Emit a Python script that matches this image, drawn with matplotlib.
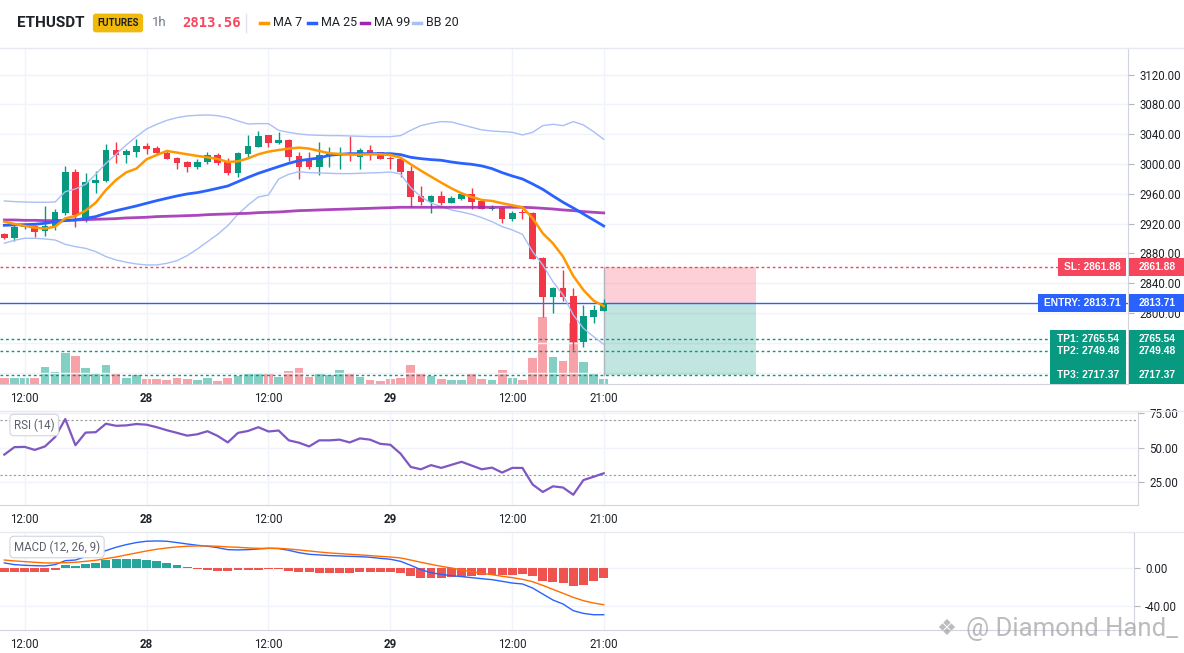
import numpy as np
import matplotlib
matplotlib.use('Agg')
import matplotlib.pyplot as plt
from matplotlib.patches import Rectangle
from matplotlib.lines import Line2D
from matplotlib import transforms

plt.rcParams['font.family'] = ['Roboto', 'DejaVu Sans']

# ---- data (1h ETHUSDT candles) ----
opens = [2906.2, 2900.8, 2915.1, 2916.9, 2909.8, 2916.9, 2933.9, 2989.4, 2925.0, 2975.1,
         2976.9, 3018.9, 3012.7, 3016.3, 3024.3, 3021.6, 3015.4, 3008.2, 3002.8, 2996.6,
         3002.8, 3012.7, 3004.6, 2988.5, 3013.6, 3023.4, 3038.6, 3028.8, 3032.4, 3010.9,
         3005.5, 2996.6, 3010.9, 3012.7, 3014.5, 3009.1, 3018.9, 3016.3, 3007.7, 3007.3,
         2990.8, 2957.2, 2949.6, 2957.2, 2948.2, 2953.6, 2959.9, 2950.9, 2939.7, 2941.5,
         2926.8, 2935.7, 2933.9, 2874.0, 2822.1, 2833.7, 2823.0, 2761.2, 2795.2, 2803.3]
closes = [2900.8, 2916.0, 2916.9, 2908.9, 2916.9, 2935.7, 2989.4, 2931.7, 2976.0, 2978.7,
          3018.9, 3012.7, 3017.6, 3024.3, 3020.7, 3015.4, 3007.3, 3001.9, 2996.6, 3002.8,
          3011.8, 3001.9, 2988.5, 3014.9, 3024.3, 3037.7, 3028.8, 3032.4, 3010.0, 2996.6,
          2996.6, 3012.7, 3014.5, 3014.5, 3011.8, 3018.9, 3014.5, 3007.3, 3006.4, 2989.9,
          2956.3, 2949.6, 2957.2, 2948.2, 2954.5, 2959.9, 2949.1, 2940.2, 2941.1, 2926.8,
          2934.8, 2934.8, 2873.1, 2822.1, 2833.7, 2822.1, 2761.7, 2796.1, 2804.2, 2813.56]
highs = [2908.0, 2917.8, 2920.5, 2918.7, 2943.8, 2939.3, 2997.5, 2993.0, 2988.5, 2990.8,
         3027.0, 3029.7, 3020.7, 3033.2, 3027.9, 3024.3, 3018.0, 3010.0, 3003.7, 3006.4,
         3016.3, 3014.5, 3008.2, 3016.3, 3038.6, 3044.9, 3039.5, 3043.1, 3033.2, 3016.3,
         3016.3, 3029.7, 3023.4, 3022.5, 3037.7, 3021.6, 3026.1, 3016.3, 3010.9, 3009.1,
         2997.5, 2970.6, 2958.1, 2964.4, 2957.2, 2962.6, 2967.9, 2951.8, 2945.6, 2942.9,
         2937.5, 2939.3, 2935.2, 2875.7, 2835.5, 2857.8, 2833.7, 2810.9, 2810.9, 2819.4]
lows = [2899.9, 2897.2, 2913.4, 2902.6, 2903.5, 2911.6, 2931.2, 2915.1, 2922.7, 2961.7,
        2976.0, 3001.9, 3001.9, 3009.1, 3013.1, 3013.6, 3006.4, 2993.9, 2989.9, 2993.9,
        3000.1, 2998.4, 2985.8, 2983.1, 3010.0, 3022.5, 3022.5, 3027.0, 3003.7, 2980.5,
        2993.0, 2985.8, 2996.6, 2993.9, 3004.6, 2993.9, 3005.5, 3006.4, 2993.9, 2983.1,
        2942.9, 2945.1, 2934.8, 2945.1, 2947.4, 2951.8, 2940.2, 2939.3, 2938.4, 2920.5,
        2923.2, 2926.8, 2872.0, 2794.3, 2799.7, 2816.7, 2750.5, 2754.9, 2787.2, 2802.4]
volume = [6.0, 6.0, 6.0, 6.0, 17.0, 12.0, 31.0, 28.0, 16.0, 10.0,
          19.0, 10.0, 6.0, 9.0, 5.0, 5.0, 4.0, 6.0, 5.0, 4.0,
          6.0, 3.0, 6.0, 8.0, 11.0, 11.0, 10.0, 7.3, 13.0, 16.0,
          7.3, 11.0, 9.0, 14.0, 10.0, 7.3, 4.0, 3.0, 5.0, 6.0,
          19.0, 11.0, 8.0, 5.0, 4.0, 4.0, 10.0, 5.0, 4.0, 14.0,
          6.0, 4.0, 26.0, 67.0, 27.0, 23.0, 61.0, 22.0, 11.0, 5.3]

ma7 = [2922.7, 2919.6, 2916.9, 2914.7, 2913.4, 2916.0, 2927.2, 2930.3, 2937.5, 2948.2,
       2965.2, 2978.7, 2988.9, 2993.9, 3006.4, 3012.2, 3017.6, 3015.4, 3013.1, 3010.9,
       3009.1, 3006.9, 3002.8, 3003.7, 3007.7, 3013.1, 3016.7, 3018.9, 3020.7, 3022.1,
       3020.7, 3017.6, 3014.5, 3013.6, 3012.7, 3012.7, 3013.1, 3013.1, 3012.2, 3008.6,
       2999.7, 2991.2, 2983.1, 2975.1, 2967.5, 2960.8, 2955.8, 2951.8, 2950.5, 2947.4,
       2944.7, 2942.0, 2927.2, 2907.1, 2893.6, 2875.7, 2849.8, 2831.0, 2816.7, 2809.5]
ma25 = [2917.8, 2918.3, 2918.7, 2919.2, 2920.5, 2922.7, 2924.1, 2925.0, 2927.2, 2929.5,
        2933.9, 2937.5, 2940.6, 2943.8, 2947.4, 2950.9, 2954.1, 2957.2, 2959.9, 2961.7,
        2964.4, 2967.5, 2970.6, 2976.4, 2982.2, 2987.6, 2992.1, 2996.6, 3001.0, 3004.6,
        3006.4, 3008.2, 3011.8, 3013.1, 3014.0, 3014.0, 3014.0, 3014.0, 3014.0, 3012.7,
        3009.1, 3007.3, 3006.0, 3005.1, 3002.8, 3001.0, 2999.7, 2997.5, 2993.9, 2988.5,
        2984.0, 2980.0, 2973.3, 2966.1, 2957.2, 2948.7, 2941.1, 2933.0, 2925.0, 2916.9]
ma99 = [2925.0, 2925.0, 2924.5, 2924.5, 2924.1, 2924.1, 2924.5, 2925.0, 2925.4, 2925.9,
        2926.3, 2926.8, 2927.7, 2928.1, 2928.6, 2929.5, 2929.9, 2930.3, 2930.8, 2931.2,
        2932.1, 2932.6, 2933.0, 2933.5, 2933.9, 2934.8, 2935.3, 2935.7, 2936.6, 2937.5,
        2937.9, 2938.4, 2938.9, 2939.3, 2939.7, 2940.2, 2940.6, 2941.1, 2941.5, 2942.0,
        2942.0, 2942.0, 2942.0, 2942.0, 2942.0, 2942.0, 2942.0, 2942.0, 2942.0, 2942.0,
        2942.0, 2942.0, 2941.5, 2940.6, 2939.7, 2938.4, 2937.5, 2936.2, 2935.3, 2934.4]
bb_upper = [2950.5, 2949.6, 2949.1, 2948.7, 2948.7, 2949.1, 2963.0, 2966.6, 2972.8, 2986.3,
            3001.0, 3013.1, 3025.6, 3036.8, 3047.1, 3053.4, 3058.7, 3062.3, 3064.6, 3065.5,
            3065.9, 3065.0, 3062.3, 3057.9, 3053.8, 3054.3, 3054.3, 3045.3, 3042.6, 3040.4,
            3039.1, 3038.6, 3038.2, 3038.2, 3037.7, 3037.3, 3036.8, 3036.8, 3036.8, 3038.2,
            3045.3, 3051.6, 3054.7, 3057.0, 3056.5, 3052.9, 3049.4, 3045.8, 3044.4, 3043.5,
            3042.6, 3039.1, 3042.6, 3051.6, 3053.4, 3051.6, 3057.0, 3052.5, 3043.5, 3033.2]
bb_lower = [2893.7, 2897.7, 2900.4, 2900.4, 2899.5, 2898.1, 2892.3, 2889.2, 2886.9, 2882.5,
            2875.8, 2871.3, 2868.2, 2865.9, 2864.6, 2864.6, 2866.8, 2870.4, 2877.1, 2886.0,
            2895.9, 2905.7, 2917.4, 2932.6, 2945.1, 2955.8, 2958.5, 2980.0, 2986.3, 2989.8,
            2988.5, 2988.1, 2987.6, 2987.2, 2987.2, 2987.6, 2988.1, 2988.5, 2989.4, 2986.7,
            2968.4, 2956.3, 2947.8, 2942.9, 2938.4, 2935.7, 2932.6, 2928.1, 2922.7, 2916.0,
            2911.6, 2905.7, 2882.5, 2864.6, 2842.2, 2824.3, 2797.5, 2779.6, 2768.4, 2758.1]

rsi = [45.0, 50.4, 50.6, 48.4, 50.9, 57.7, 70.7, 51.8, 60.9, 61.2,
       67.3, 65.8, 66.1, 67.1, 66.6, 64.8, 62.6, 60.7, 58.7, 59.7,
       61.9, 58.5, 53.8, 60.7, 62.1, 64.8, 61.7, 62.4, 55.3, 53.6,
       50.9, 55.3, 55.3, 55.8, 53.8, 56.7, 55.8, 52.8, 52.1, 45.7,
       36.1, 34.4, 37.4, 35.4, 37.6, 39.8, 37.1, 34.4, 35.6, 32.0,
       35.4, 35.4, 23.4, 18.0, 22.1, 21.2, 16.0, 26.6, 29.0, 31.5]

macd = [5.7, 3.9, 3.2, 2.8, 2.5, 3.9, 8.1, 8.8, 12.4, 15.2,
        18.8, 22.3, 25.1, 27.3, 28.7, 29.0, 28.7, 27.3, 25.8, 24.4,
        23.4, 21.9, 19.8, 19.5, 19.8, 20.5, 21.2, 20.9, 19.1, 16.6,
        14.9, 14.2, 13.5, 13.1, 12.7, 12.4, 11.7, 10.6, 9.6, 7.4,
        3.2, -1.4, -4.6, -6.4, -7.8, -8.8, -9.9, -11.0, -12.0, -13.8,
        -15.6, -16.6, -20.9, -27.3, -33.6, -37.9, -44.9, -47.8, -49.2, -49.2]
signal = [8.8, 7.8, 7.1, 6.4, 5.7, 5.7, 6.0, 6.4, 7.4, 8.5,
          10.3, 12.0, 14.2, 16.3, 18.4, 20.2, 21.6, 22.7, 23.4, 23.7,
          23.7, 23.4, 22.7, 22.3, 21.6, 21.2, 21.2, 21.2, 20.5, 19.5,
          18.4, 17.3, 16.3, 15.6, 14.9, 14.2, 13.5, 12.7, 12.0, 11.0,
          8.8, 6.4, 4.2, 2.1, 0.4, -1.8, -3.5, -5.3, -6.7, -8.5,
          -9.9, -11.7, -14.2, -18.1, -22.3, -26.5, -30.8, -34.3, -36.8, -38.6]
hist = [-4.2, -4.2, -3.5, -3.5, -3.5, -1.4, 3.5, 2.1, 4.6, 5.7,
        9.2, 9.6, 9.9, 9.9, 8.8, 7.8, 5.7, 3.5, 1.4, -0.4,
        -1.4, -2.5, -2.5, -2.1, -2.1, -1.4, -0.7, -0.7, -2.5, -3.5,
        -4.2, -4.6, -4.6, -4.6, -4.6, -4.2, -4.2, -4.2, -3.5, -5.0,
        -7.8, -9.9, -9.9, -9.9, -9.6, -9.2, -8.1, -7.1, -7.1, -7.1,
        -7.1, -5.7, -7.8, -13.5, -14.2, -15.2, -18.4, -17.3, -13.5, -10.6]

tick_pos = [2, 14, 26, 38, 50, 59]
tick_lab = ['12:00', '28', '12:00', '29', '12:00', '21:00']
price_ticks = [2720, 2760, 2800, 2840, 2880, 2920, 2960, 3000, 3040, 3080, 3120]
hidden_ticks = [2720, 2760]   # sit under the TP tags

last_price = 2813.56
sl = 2861.88
entry = 2813.71
tps = [2765.54, 2749.48, 2717.37]
zone_bars = 15

GREEN = '#089981'
RED = '#f23645'
GRID = '#f0f3fa'
BORDER = '#d1d4dc'
TXT = '#1e2329'

# ---- layout helpers (pixels of a 1184x653 canvas) ----
W, H = 1184, 653
BAR_PX = 10.16
X0_PX = 4.3


def box(x0, y0, x1, y1):
    return [x0 / W, 1 - y1 / H, (x1 - x0) / W, (y1 - y0) / H]


def xlim_for(width_px):
    return (-X0_PX / BAR_PX, (width_px - X0_PX) / BAR_PX)


def style_axis(a, width_px):
    a.set_xlim(*xlim_for(width_px))
    a.yaxis.tick_right()
    a.tick_params(axis='y', length=4, color='#b2b5be', labelsize=8.3, labelcolor=TXT, pad=4)
    a.tick_params(axis='x', length=0, labelsize=8.3, labelcolor=TXT, pad=6)
    a.set_xticks(tick_pos)
    a.set_xticklabels(tick_lab)
    for t in a.get_xticklabels():
        if ':' not in t.get_text():
            t.set_fontweight('bold')
    a.grid(True, color=GRID, lw=1)
    a.set_axisbelow(True)
    for s in ['top', 'left']:
        a.spines[s].set_visible(False)
    for s in ['right', 'bottom']:
        a.spines[s].set_color(BORDER)


fig = plt.figure(figsize=(11.84, 6.53), dpi=100)
fig.patch.set_facecolor('white')

idx = np.arange(len(closes))
o = np.array(opens)
c = np.array(closes)
up = c >= o
ccol = np.where(up, GREEN, RED)

# ---- main price panel ----
main_box = box(0, 48, 1128, 384)
ax_vol = fig.add_axes(main_box)
ax_vol.set_axis_off()
ax_vol.set_xlim(*xlim_for(1128))
ax_vol.bar(idx, volume, width=0.86, color=np.where(up, '#84cfc3', '#f7a1a9'), zorder=1)
ax_vol.set_ylim(0, max(volume) * 336 / 67)

ax = fig.add_axes(main_box, facecolor='none')
style_axis(ax, 1128)
ax.set_ylim(2704.8, 3155.8)
ax.set_yticks(price_ticks)
ax.set_yticklabels(['' if p in hidden_ticks else '%.2f' % p for p in price_ticks])

ax.vlines(idx, lows, highs, colors=ccol, lw=1, zorder=3)
ax.bar(idx, np.maximum(np.abs(c - o), 0.8), bottom=np.minimum(o, c), width=0.66,
       color=ccol, zorder=4)

ax.plot(idx, bb_upper, color='#a9bff5', lw=1, zorder=5)
ax.plot(idx, bb_lower, color='#a9bff5', lw=1, zorder=5)
ax.plot(idx, ma99, color='#9c27b0', lw=2, alpha=0.85, zorder=5)
ax.plot(idx, ma25, color='#2962ff', lw=2, zorder=5)
ax.plot(idx, ma7, color='#ff9800', lw=1.8, zorder=6)

# trade setup
last = idx[-1]
ax.add_patch(Rectangle((last, entry), zone_bars, sl - entry, color='#f6465d', alpha=0.25, lw=0, zorder=2))
ax.add_patch(Rectangle((last, tps[-1]), zone_bars, entry - tps[-1], color=GREEN, alpha=0.25, lw=0, zorder=2))
ax.plot([last, last], [tps[-1], sl], color='#b2b5be', lw=1, zorder=2)
ax.axhline(sl, color='#f6465d', lw=1, ls=(0, (2, 2)), zorder=2)
for tp in tps:
    ax.axhline(tp, color=GREEN, lw=1, ls=(0, (2, 2)), zorder=2)
ax.axhline(entry, color='#2962ff', lw=1, zorder=2)

# price tags on the right
blend = transforms.blended_transform_factory(fig.transFigure, ax.transData)
lo, hi = ax.get_ylim()
per_px = (hi - lo) / 336


def tag(x0, x1, y_lo, y_hi, color):
    fig.add_artist(Rectangle((x0 / W, y_lo), (x1 - x0) / W, y_hi - y_lo, transform=blend,
                             facecolor=color, edgecolor='none', clip_on=False))


def tag_text(x, y, s):
    fig.text(x / W, y, s, transform=blend, ha='center', va='center', color='white',
             fontsize=7.4, fontweight='bold', family='Liberation Sans')


tag(1058, 1126, sl - 9 * per_px, sl + 9 * per_px, '#f6465d')
tag(1129, 1184, sl - 9 * per_px, sl + 9 * per_px, '#f6465d')
tag_text(1092, sl, 'SL: %.2f' % sl)
tag_text(1157, sl, '%.2f' % sl)

tag(1038, 1126, entry - 9 * per_px, entry + 9 * per_px, '#2962ff')
tag(1129, 1184, entry - 9 * per_px, entry + 9 * per_px, '#2962ff')
tag_text(1082, entry, 'ENTRY: %.2f' % entry)
tag_text(1157, entry, '%.2f' % entry)

tag(1050, 1126, tps[-1] - 9 * per_px, tps[0] + 9 * per_px, GREEN)
tag(1129, 1184, tps[-1] - 9 * per_px, tps[0] + 9 * per_px, GREEN)
for k, tp in enumerate(tps):
    tag_text(1088, tp, 'TP%d: %.2f' % (k + 1, tp))
    tag_text(1157, tp, '%.2f' % tp)

# ---- RSI panel ----
ax_rsi = fig.add_axes(box(0, 411, 1138, 505))
style_axis(ax_rsi, 1138)
ax_rsi.set_ylim(8.6, 76.5)
ax_rsi.set_yticks([25, 50, 75])
ax_rsi.set_yticklabels(['25.00', '50.00', '75.00'])
ax_rsi.axhline(70, color='#9598a1', lw=0.8, ls=(0, (2, 2)))
ax_rsi.axhline(30, color='#9598a1', lw=0.8, ls=(0, (2, 2)))
ax_rsi.plot(idx, rsi, color='#7e57c2', lw=1.6)

# ---- MACD panel ----
ax_macd = fig.add_axes(box(0, 532, 1134, 630))
style_axis(ax_macd, 1134)
ax_macd.set_ylim(-65.4, 38.5)
ax_macd.set_yticks([-40, 0])
ax_macd.set_yticklabels(['-40.00', '0.00'])
hcol = ['#26a69a' if h >= 0 else '#ef5350' for h in hist]
ax_macd.bar(idx, hist, width=0.88, color=hcol, zorder=2)
ax_macd.plot(idx, macd, color='#2962ff', lw=1, zorder=3)
ax_macd.plot(idx, signal, color='#ff6d00', lw=1, zorder=3)

# panel separators
for yy in [48, 411, 532]:
    fig.add_artist(Line2D([0, 1], [1 - yy / H] * 2, color='#e6e9ef', lw=1))

label_box = dict(boxstyle='round,pad=0.35,rounding_size=0.35', fc='white', ec=BORDER, lw=0.8)
fig.text(14 / W, 1 - 425 / H, 'RSI (14)', fontsize=8.3, color='#5d606b', va='center', bbox=label_box)
fig.text(14 / W, 1 - 547 / H, 'MACD (12, 26, 9)', fontsize=8.3, color='#5d606b', va='center', bbox=label_box)

# ---- header ----
hy = 1 - 23 / H
fig.text(17 / W, hy, 'ETHUSDT', fontsize=11, fontweight='bold', color=TXT, va='center')
fig.text(118 / W, hy, 'FUTURES', fontsize=7, fontweight='bold', color=TXT, va='center', ha='center',
         bbox=dict(boxstyle='round,pad=0.45,rounding_size=0.3', fc='#f0b90b', ec='none'))
fig.text(152 / W, hy, '1h', fontsize=9.5, color='#707a8a', va='center')
fig.text(182 / W, hy, '%.2f' % last_price, fontsize=10, fontweight='bold', color='#f6465d',
         va='center', family='DejaVu Sans Mono')
fig.add_artist(Line2D([246 / W] * 2, [1 - 14 / H, 1 - 32 / H], color='#e0e3eb', lw=1))
legend_items = [('MA 7', '#ff9800', 260), ('MA 25', '#2962ff', 308),
                ('MA 99', '#9c27b0', 361), ('BB 20', '#a9bff5', 413)]
for name, col, lx in legend_items:
    fig.add_artist(Line2D([lx / W, (lx + 8) / W], [hy, hy], color=col, lw=2.5))
    fig.text((lx + 13) / W, hy, name, fontsize=9, color=TXT, va='center')

# watermark
fig.text(936 / W, 1 - 629 / H, '\u2756', fontsize=16, color='#a0a0a0', alpha=0.7, va='center',
         family='DejaVu Sans')
fig.text(966 / W, 1 - 629 / H, '@ Diamond Hand_', fontsize=18.5, color='#a0a0a0', alpha=0.7, va='center')

fig.savefig('out.png', dpi=100, facecolor='white')
